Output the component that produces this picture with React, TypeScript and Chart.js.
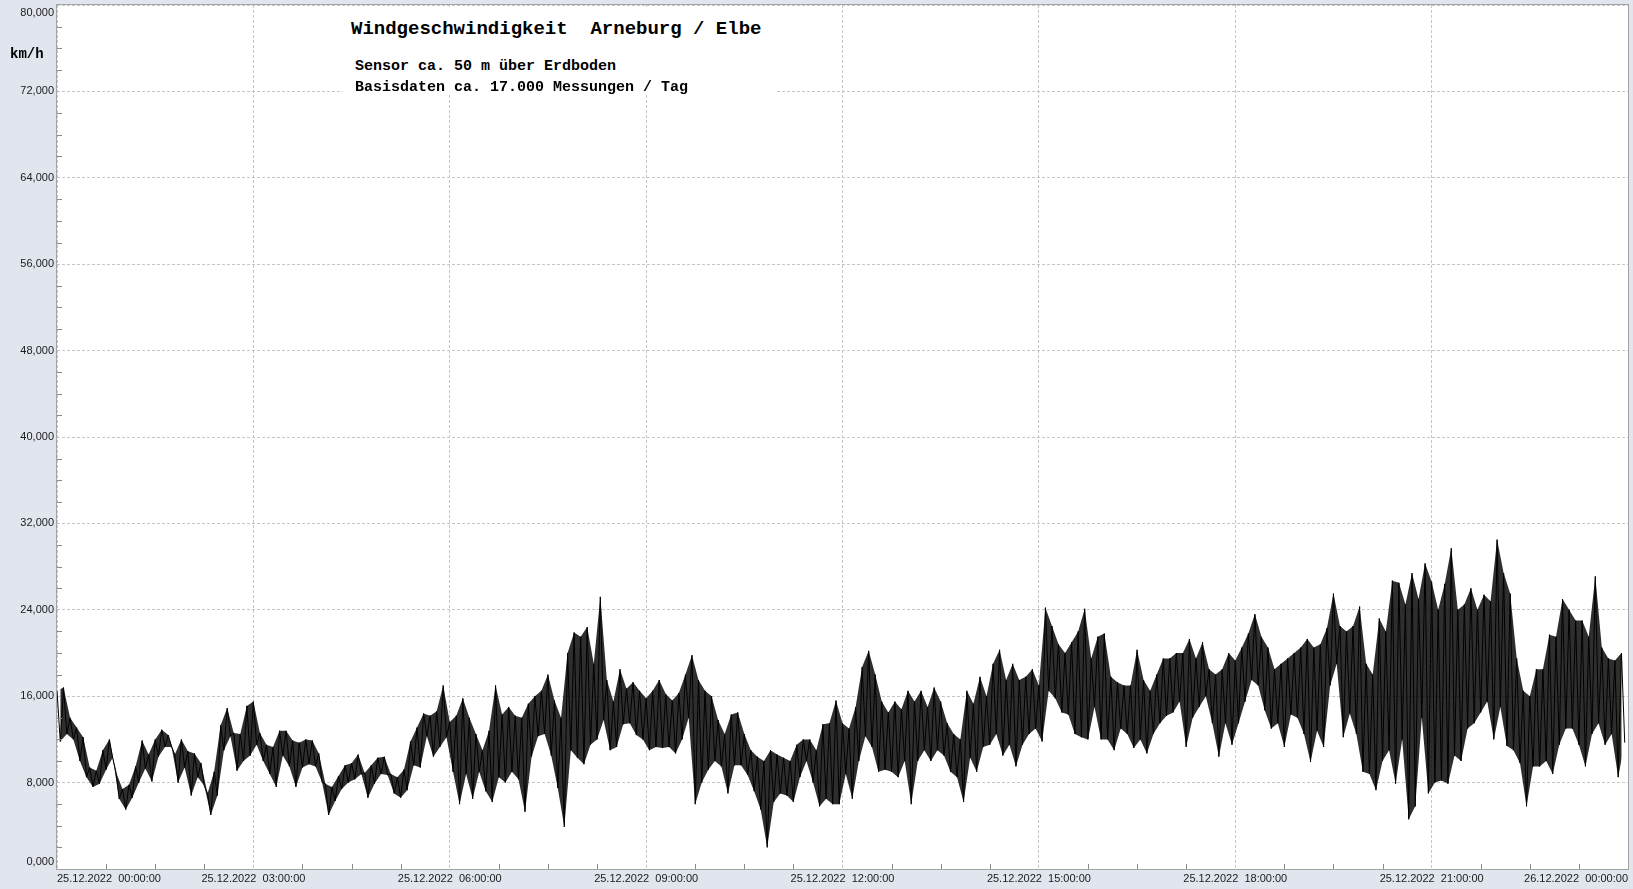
import React, { useEffect, useRef } from 'react';
import { Chart, registerables } from 'chart.js';

Chart.register(...registerables);

// ---------- data (km/h), one upper and one lower reading per 6-minute step ----------
const minutesPerStep = 6;

const highValues = [
  16.5, 16.8, 14.0, 13.1, 12.2, 9.4, 9.1, 11.0, 12.0, 9.0,
  7.4, 7.8, 9.5, 11.9, 10.6, 12.0, 12.9, 12.4, 10.6, 12.0,
  10.9, 10.7, 9.8, 7.0, 9.0, 13.3, 14.9, 12.6, 12.5, 15.1,
  15.5, 12.6, 11.5, 11.3, 12.8, 12.8, 11.9, 11.7, 12.0, 11.9,
  10.7, 7.9, 7.6, 8.6, 9.6, 9.8, 10.6, 8.9, 9.6, 10.3,
  10.4, 8.8, 8.5, 9.2, 11.8, 13.1, 14.4, 14.2, 14.6, 17.0,
  13.6, 14.2, 15.8, 14.0, 12.5, 11.0, 12.8, 17.0, 14.3, 15.0,
  14.2, 14.0, 15.3, 16.0, 16.5, 18.0, 15.6, 14.0, 20.0, 21.9,
  21.5, 22.4, 19.0, 25.2, 17.5, 15.5, 18.5, 16.7, 17.3, 16.5,
  15.8, 16.5, 17.5, 16.2, 15.6, 16.3, 18.0, 19.8, 17.5, 16.5,
  16.0, 13.8, 12.5, 14.3, 14.5, 12.5, 11.0, 10.4, 10.0, 11.0,
  10.6, 10.3, 10.0, 11.5, 12.0, 12.0, 11.0, 13.4, 13.5, 15.6,
  13.5, 13.0, 15.0, 18.7, 20.2, 18.0, 15.5, 14.5, 15.5, 14.8,
  16.5, 15.5, 16.5, 15.0, 16.8, 15.5, 13.5, 12.5, 12.0, 16.5,
  15.3, 17.8, 16.0, 19.0, 20.3, 17.5, 19.0, 17.5, 17.8, 18.5,
  17.0, 24.2, 22.5, 20.8, 20.0, 21.0, 22.0, 24.1, 19.5, 21.5,
  21.8, 17.8, 17.3, 17.0, 17.0, 20.3, 17.5, 16.5, 18.0, 19.5,
  19.5, 20.0, 20.0, 21.3, 19.5, 21.0, 18.5, 18.0, 18.5, 20.0,
  19.3, 20.5, 21.8, 23.6, 21.5, 20.5, 18.5, 19.0, 19.5, 20.0,
  20.5, 21.3, 20.5, 20.8, 22.3, 25.5, 22.5, 22.0, 22.5, 24.3,
  19.0, 18.0, 23.2, 22.0, 26.7, 26.5, 24.5, 27.4, 25.0, 28.3,
  26.6, 24.0, 26.4, 29.7, 24.0, 24.5, 26.0, 24.0, 25.4, 24.8,
  30.5, 27.4, 25.5, 19.5, 16.5, 16.0, 18.5, 18.5, 21.7, 21.5,
  25.0, 24.0, 23.0, 23.0, 21.5, 27.1, 20.5, 19.5, 19.3, 20.0,
];

const lowValues = [
  11.8, 12.5, 12.0, 10.0, 8.5, 7.6, 7.9, 9.2, 10.3, 6.5,
  5.5, 6.6, 8.0, 9.3, 8.1, 10.4, 11.3, 11.3, 8.0, 9.4,
  6.8, 8.5, 7.7, 5.0, 6.8, 11.0, 12.3, 9.1, 10.0, 10.5,
  11.5, 10.0, 8.8, 7.6, 10.5, 9.5, 7.6, 9.4, 9.7, 9.5,
  8.0, 5.0, 6.3, 7.4, 8.0, 8.3, 8.8, 6.6, 7.9, 8.8,
  8.7, 7.0, 6.6, 7.3, 9.6, 9.4, 12.3, 10.4, 11.3, 12.2,
  9.0, 6.0, 8.8, 6.5, 9.0, 7.2, 6.2, 8.5, 8.0, 9.0,
  8.3, 5.3, 10.4, 12.3, 12.5, 10.5, 7.5, 3.9, 11.0, 10.3,
  9.7, 11.5, 12.0, 13.8, 11.0, 11.3, 13.4, 13.5, 12.4, 12.0,
  11.0, 11.3, 11.2, 11.3, 10.7, 12.0, 14.0, 6.0, 8.0, 9.2,
  10.0, 9.5, 7.0, 9.6, 9.6, 8.7, 7.2, 5.5, 2.0, 6.2,
  7.0, 6.8, 6.2, 8.5, 10.0, 8.0, 5.8, 6.5, 6.0, 6.0,
  8.8, 6.5, 10.0, 12.3, 11.3, 9.0, 9.2, 9.0, 8.5, 10.0,
  6.0, 10.0, 11.0, 10.0, 11.0, 10.5, 9.0, 8.5, 6.2, 10.3,
  9.0, 11.3, 11.5, 12.5, 10.5, 11.5, 9.5, 11.5, 12.5, 13.0,
  11.8, 16.5, 15.8, 14.5, 14.3, 12.5, 12.2, 12.0, 15.0, 12.0,
  12.0, 11.0, 13.0, 12.5, 11.2, 12.0, 10.7, 12.5, 13.5, 14.2,
  14.5, 15.5, 11.3, 14.0, 15.0, 16.0, 13.5, 10.4, 13.5, 11.5,
  13.5, 15.5, 17.5, 17.0, 14.7, 13.0, 13.5, 11.3, 14.3, 14.0,
  12.5, 9.9, 12.8, 11.3, 17.0, 19.0, 12.2, 14.4, 12.5, 9.0,
  8.8, 7.3, 10.0, 11.0, 7.9, 12.0, 4.6, 5.8, 14.0, 7.0,
  8.0, 8.2, 7.9, 10.5, 10.0, 13.0, 13.5, 14.5, 15.5, 12.0,
  15.0, 11.4, 11.0, 9.8, 5.8, 9.5, 9.5, 10.0, 8.8, 11.5,
  13.0, 13.0, 11.5, 9.5, 12.5, 13.5, 11.5, 12.5, 8.5, 11.7,
];

// ---------- axes ----------
const xTickMinutes = [0, 180, 360, 540, 720, 900, 1080, 1260, 1440];
const xTickLabels = [
  '25.12.2022  00:00:00',
  '25.12.2022  03:00:00',
  '25.12.2022  06:00:00',
  '25.12.2022  09:00:00',
  '25.12.2022  12:00:00',
  '25.12.2022  15:00:00',
  '25.12.2022  18:00:00',
  '25.12.2022  21:00:00',
  '26.12.2022  00:00:00',
];
const yTickValues = [0, 8, 16, 24, 32, 40, 48, 56, 64, 72, 80];
const yMinorStep = 2;
const xMinorStep = 45;

// ---------- texts ----------
const chartTitle = 'Windgeschwindigkeit  Arneburg / Elbe';
const subtitleSensor = 'Sensor ca. 50 m über Erdboden';
const subtitleBasis = 'Basisdaten ca. 17.000 Messungen / Tag';
const unitLabel = 'km/h';

const W = 1633;
const H = 889;
const tickFont = '"Liberation Sans", Arial, sans-serif';
const monoFont = '"Liberation Mono", "Courier New", monospace';

function highPoints() {
  return highValues.map((v, i) => ({ x: i * minutesPerStep, y: v }));
}
function lowPoints() {
  return lowValues.map((v, i) => ({ x: i * minutesPerStep + minutesPerStep / 2, y: v }));
}
function zigzagPoints() {
  const pts: { x: number; y: number }[] = [];
  for (let i = 0; i < highValues.length; i++) {
    pts.push({ x: i * minutesPerStep, y: highValues[i] });
    pts.push({ x: i * minutesPerStep + minutesPerStep / 2, y: lowValues[i] });
  }
  return pts;
}

const decorations = {
  id: 'decorations',
  beforeDraw(chart: any) {
    const { ctx, chartArea: a } = chart;
    ctx.save();
    ctx.fillStyle = '#ffffff';
    ctx.fillRect(a.left, a.top, a.right - a.left, a.bottom - a.top);
    ctx.restore();
  },
  afterDraw(chart: any) {
    const { ctx, chartArea: a, scales } = chart;
    const xs = scales.x;
    const ys = scales.y;
    ctx.save();
    ctx.strokeStyle = '#a3a3a3';
    ctx.lineWidth = 1;
    ctx.strokeRect(a.left - 0.5, a.top - 0.5, a.right - a.left + 1, a.bottom - a.top + 1);
    ctx.strokeStyle = '#8a8a8a';
    ctx.beginPath();
    for (let v = yMinorStep; v < ys.max; v += yMinorStep) {
      if (yTickValues.includes(v)) continue;
      const y = Math.round(ys.getPixelForValue(v)) + 0.5;
      ctx.moveTo(a.left, y);
      ctx.lineTo(a.left + 5, y);
    }
    for (let m = xMinorStep; m < xs.max; m += xMinorStep) {
      if (xTickMinutes.includes(m)) continue;
      const x = Math.round(xs.getPixelForValue(m)) + 0.5;
      ctx.moveTo(x, a.bottom);
      ctx.lineTo(x, a.bottom - 5);
    }
    ctx.stroke();
    ctx.fillStyle = '#1a1a1a';
    ctx.font = '11px ' + tickFont;
    ctx.textAlign = 'right';
    ctx.textBaseline = 'middle';
    yTickValues.forEach((v) => {
      let y = ys.getPixelForValue(v);
      y = Math.max(a.top + 8, Math.min(a.bottom - 7, y));
      ctx.fillText(v.toFixed(3).replace('.', ','), a.left - 3, y);
    });
    ctx.restore();
  },
};

export default function App() {
  const canvasRef = useRef<HTMLCanvasElement | null>(null);

  useEffect(() => {
    document.body.style.margin = '0';
    document.body.style.overflow = 'hidden';
    const canvas = canvasRef.current;
    if (!canvas) return;
    const chart = new Chart(canvas, {
      type: 'line',
      data: {
        datasets: [
          {
            data: highPoints(),
            borderWidth: 0,
            borderColor: 'rgba(0,0,0,0)',
            pointRadius: 0,
            tension: 0,
            fill: false,
            order: 2,
          },
          {
            data: lowPoints(),
            borderWidth: 0,
            borderColor: 'rgba(0,0,0,0)',
            backgroundColor: 'rgba(0,0,0,0.82)',
            pointRadius: 0,
            tension: 0,
            fill: '-1',
            order: 1,
          },
          {
            data: zigzagPoints(),
            borderColor: '#000000',
            borderWidth: 1,
            pointRadius: 0,
            tension: 0,
            fill: false,
            order: 0,
          },
        ],
      },
      options: {
        animation: false,
        responsive: false,
        devicePixelRatio: 1,
        events: [],
        layout: { padding: { top: 5, right: 5, left: 0, bottom: 0 } },
        plugins: { legend: { display: false }, tooltip: { enabled: false }, title: { display: false } },
        scales: {
          x: {
            type: 'linear',
            min: 0,
            max: 1440,
            afterFit: (s: any) => {
              s.height = 20;
            },
            afterBuildTicks: (s: any) => {
              s.ticks = xTickMinutes.map((v) => ({ value: v }));
            },
            ticks: {
              align: 'inner',
              maxRotation: 0,
              autoSkip: false,
              padding: 3,
              color: '#1a1a1a',
              font: { family: tickFont, size: 11 },
              callback: (value: any) => {
                const idx = xTickMinutes.indexOf(Number(value));
                return idx >= 0 ? xTickLabels[idx] : '';
              },
            },
            grid: { color: '#c6c6c6', lineWidth: 1, drawTicks: false },
            border: { display: false, dash: [3, 2] },
          },
          y: {
            type: 'linear',
            min: 0,
            max: 80,
            afterFit: (s: any) => {
              s.width = 57;
            },
            afterBuildTicks: (s: any) => {
              s.ticks = yTickValues.map((v) => ({ value: v }));
            },
            ticks: { display: false },
            grid: { color: '#c6c6c6', lineWidth: 1, drawTicks: false },
            border: { display: false, dash: [3, 2] },
          },
        },
      },
      plugins: [decorations],
    } as any);
    return () => chart.destroy();
  }, []);

  const mono: React.CSSProperties = {
    position: 'absolute',
    fontFamily: monoFont,
    fontWeight: 'bold',
    whiteSpace: 'pre',
    color: '#000',
    margin: 0,
  };

  return (
    <div style={{ position: 'relative', width: W, height: H, background: '#e1e5ee', overflow: 'hidden' }}>
      <canvas ref={canvasRef} width={W} height={H} style={{ position: 'absolute', left: 0, top: 0, width: W, height: H }} />
      <div style={{ position: 'absolute', left: 343, top: 7, width: 434, height: 88, background: '#ffffff' }} />
      <div style={{ ...mono, left: 351, top: 20, fontSize: 19, lineHeight: '19px' }}>{chartTitle}</div>
      <div style={{ ...mono, left: 355, top: 59, fontSize: 15, lineHeight: '15px' }}>{subtitleSensor}</div>
      <div style={{ ...mono, left: 355, top: 80, fontSize: 15, lineHeight: '15px' }}>{subtitleBasis}</div>
      <div style={{ ...mono, left: 10, top: 47, fontSize: 14, lineHeight: '14px' }}>{unitLabel}</div>
    </div>
  );
}
